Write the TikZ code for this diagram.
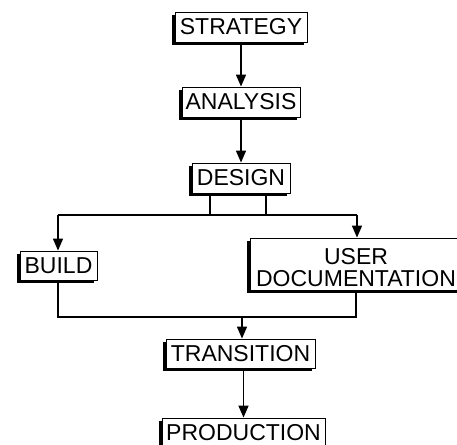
\documentclass[tikz,border=0pt]{standalone}
\usepackage{fontspec}
\setmainfont{Liberation Sans}
\usetikzlibrary{arrows.meta,shadows}
\tikzset{
  stagebox/.style={draw=black, line width=0.9pt, fill=white, inner sep=0pt,
    align=center, font=\fontsize{23}{22}\selectfont,
    drop shadow={shadow xshift=-3pt, shadow yshift=-3pt, fill=black, opacity=1}},
  link/.style={line width=1.6pt, draw=black},
  arr/.style={link, -{Triangle[width=10pt,length=12pt]}}
}
\begin{document}
\begin{tikzpicture}[x=1pt,y=-1pt]
\useasboundingbox (0,0) rectangle (457,444);
\node[stagebox, minimum width=132pt, minimum height=30pt] (strategy) at (241,27) {STRATEGY};
\node[stagebox, minimum width=118pt, minimum height=30pt] (analysis) at (241,102) {ANALYSIS};
\node[stagebox, minimum width=98pt, minimum height=30pt] (design) at (241,178) {DESIGN};
\node[stagebox, minimum width=77pt, minimum height=29pt] (build) at (58.5,265.5) {BUILD};
\node[stagebox, minimum width=212pt, minimum height=52pt] (userdoc) at (356,264) {\rule{0pt}{23.5pt}USER\\DOCUMENTATION};
\node[stagebox, minimum width=149pt, minimum height=29pt] (transition) at (240.5,353.5) {TRANSITION};
\node[stagebox, minimum width=163pt, minimum height=32pt] (production) at (243.5,434) {\rule[-3pt]{0pt}{3pt}PRODUCTION};

\coordinate (dl) at (210,215);
\coordinate (dr) at (266,215);
\coordinate (bl) at (58,215);
\coordinate (br) at (357,215);
\coordinate (ml) at (58,317);
\coordinate (mr) at (356,317);
\coordinate (mm) at (242,317);

\draw[arr] (strategy.south) -- (analysis.north);
\draw[arr] (analysis.south) -- (design.north);
\draw[link] (design.south -| dl) -- (dl);
\draw[link] (design.south -| dr) -- (dr);
\draw[link] (bl) -- (br);
\draw[arr] (bl) -- (build.north -| bl);
\draw[arr] (br) -- (userdoc.north -| br);
\draw[link] (build.south -| ml) -- (ml) -- (mr) -- (userdoc.south -| mr);
\draw[arr] (mm) -- (transition.north -| mm);
\draw[arr] (transition.south -| production.north) -- (production.north);
\end{tikzpicture}
\end{document}
